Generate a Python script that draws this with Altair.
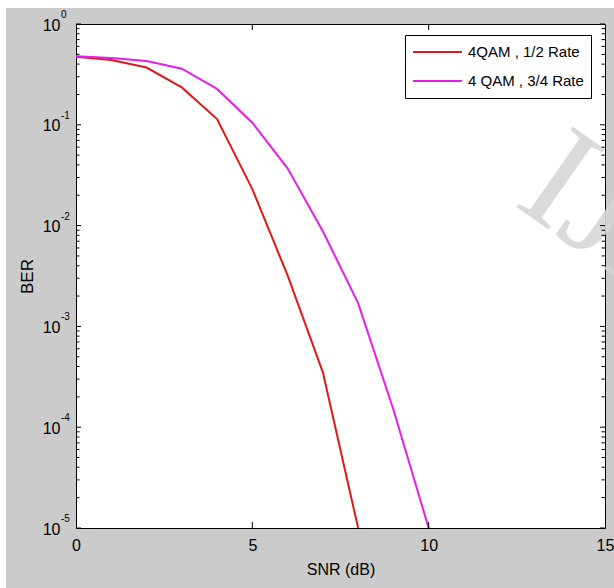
import altair as alt
import pandas as pd

# ---------------- data ----------------
series_names = ["4QAM , 1/2 Rate", "4 QAM , 3/4 Rate"]
series_colors = ["#dc1a1a", "#e41ee4"]

snr_half = [0, 1, 2, 3, 4, 5, 6, 7, 8]
ber_half = [0.474, 0.44, 0.37, 0.235, 0.114, 0.023, 0.0032, 0.00035, 0.00001]

snr_three_q = [0, 1, 2, 3, 4, 5, 6, 7, 8, 9, 10]
ber_three_q = [0.48, 0.46, 0.43, 0.36, 0.227, 0.105, 0.037, 0.0088, 0.0017, 0.00015, 0.00001]

x_tick_values = [0, 5, 10, 15]
x_inner_ticks = [5, 10]
y_decades = [1, 0.1, 0.01, 0.001, 0.0001, 0.00001]
y_exponents = ["0", "-1", "-2", "-3", "-4", "-5"]
minor_mult = [2, 3, 4, 5, 6, 7, 8, 9]
watermark_text = ["IJERT"]

# ---------------- tables ----------------
lines_df = pd.DataFrame(
    {"snr": snr_half + snr_three_q,
     "ber": ber_half + ber_three_q,
     "series": [series_names[0]] * len(snr_half) + [series_names[1]] * len(snr_three_q)}
)
major_df = pd.DataFrame({"ber": y_decades, "e": y_exponents})
minor_df = pd.DataFrame({"ber": [m * d for d in y_decades[1:] for m in minor_mult]})
xt_df = pd.DataFrame({"snr": x_inner_ticks})
one = pd.DataFrame({"k": [0]})
wm_df = pd.DataFrame({"t": watermark_text})

W, H = 529, 504
FONT = "Liberation Sans"

xs = alt.Scale(domain=[0, 15], nice=False, zero=False)
ys = alt.Scale(type="log", domain=[1e-5, 1], nice=False)

x_axis = alt.Axis(values=x_tick_values, format="d", title="SNR (dB)",
                  ticks=False, tickSize=0, domain=False, grid=False,
                  labelFont=FONT, labelFontSize=16, labelColor="black",
                  labelPadding=9, labelFlush=False, labelOverlap=False,
                  titleFont=FONT, titleFontSize=16, titleFontWeight="normal",
                  titleColor="black", titleY=41, titleBaseline="middle", zindex=1)
y_axis = alt.Axis(values=y_decades, labelExpr="'10'", title="BER",
                  ticks=False, tickSize=0, domain=False, grid=False,
                  labelFont=FONT, labelFontSize=16, labelColor="black",
                  labelPadding=16, labelOffset=1, labelFlush=False,
                  labelOverlap=False, labelAlign="right", labelBaseline="middle",
                  titleFont=FONT, titleFontSize=17, titleFontWeight="normal",
                  titleColor="black", titleX=-49, titleY=H / 2,
                  titleAngle=-90, titleBaseline="middle", titleAlign="center", zindex=1)

X = lambda: alt.X("snr:Q", scale=xs, axis=x_axis)
Y = lambda: alt.Y("ber:Q", scale=ys, axis=y_axis)

# white strips of the page around the gray figure
strips = alt.layer(
    alt.Chart(one).mark_rect(color="white").encode(
        x=alt.value(-76), x2=alt.value(W + 9), y=alt.value(-24), y2=alt.value(-16)),
    alt.Chart(one).mark_rect(color="white").encode(
        x=alt.value(-76), x2=alt.value(-70), y=alt.value(-24), y2=alt.value(H + 60)),
)

watermark = alt.Chart(wm_df).mark_text(
    font="Liberation Serif", fontSize=150, angle=35, align="left",
    baseline="alphabetic", color="#d6d6d6", opacity=0.9
).encode(x=alt.value(436), y=alt.value(180), text="t:N")

lines = alt.Chart(lines_df).mark_line(strokeWidth=2, clip=True).encode(
    x=X(), y=Y(),
    color=alt.Color("series:N",
                    scale=alt.Scale(domain=series_names, range=series_colors),
                    legend=alt.Legend(orient="none", legendX=329, legendY=11, title=None,
                                      symbolType="stroke", symbolSize=2401,
                                      symbolStrokeWidth=2, clipHeight=20, rowPadding=9,
                                      padding=7, strokeColor="black", fillColor="white",
                                      labelFont=FONT, labelFontSize=15, labelOffset=5,
                                      labelColor="black", labelLimit=400, cornerRadius=0)),
    detail="series:N",
)

def yrule(df, x0, x1):
    return alt.Chart(df).mark_rule(color="black", strokeWidth=1).encode(
        y=Y(), x=alt.value(x0), x2=alt.value(x1))

def xrule(y0, y1):
    return alt.Chart(xt_df).mark_rule(color="black", strokeWidth=1).encode(
        x=X(), y=alt.value(y0), y2=alt.value(y1))

ticks = alt.layer(
    yrule(major_df, 0, 5), yrule(major_df, W - 5, W),
    yrule(minor_df, 0, 3.5), yrule(minor_df, W - 3.5, W),
    xrule(H - 6, H), xrule(0, 6),
)

exponents = alt.Chart(major_df).mark_text(
    font=FONT, fontSize=10, align="left", baseline="middle", dy=-9, color="black"
).encode(y=Y(), x=alt.value(-15), text="e:N")

chart = alt.layer(strips, watermark, lines, ticks, exponents).properties(
    width=W, height=H,
    padding={"left": 76, "top": 24, "right": 9, "bottom": 60},
    autosize=alt.AutoSizeParams(type="none"),
    background="#cbcbcb",
).configure_view(stroke="black", strokeWidth=1, fill="white")

chart.save("out.html", embed_options={"renderer": "svg", "actions": False})
